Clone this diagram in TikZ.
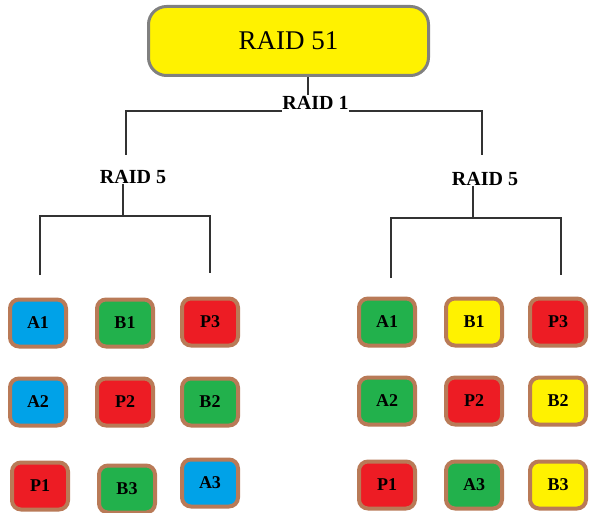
\documentclass[tikz,border=0pt]{standalone}
\usepackage{fontspec}
\setmainfont{Liberation Serif}
\definecolor{raidyellow}{RGB}{255,242,0}
\definecolor{raidblue}{RGB}{0,162,232}
\definecolor{raidgreen}{RGB}{34,177,76}
\definecolor{raidred}{RGB}{237,28,36}
\definecolor{diskrim}{RGB}{185,122,87}
\definecolor{wire}{RGB}{50,50,50}

\begin{document}
\begin{tikzpicture}[x=1pt, y=-1pt,
    wireline/.style={draw=wire, line width=1.5pt},
    level/.style={inner sep=0pt, font=\fontsize{20}{20}\selectfont\bfseries},
    disk/.style={draw=diskrim, line width=4pt, rounded corners=9pt, minimum width=56pt, minimum height=47pt, inner sep=0pt, font=\fontsize{18}{18}\selectfont\bfseries}]
			\useasboundingbox (0,0) rectangle (589,513);
			\node [draw=gray, line width=3pt, fill=raidyellow, rounded corners=18pt, minimum width=280pt, minimum height=69pt, font=\fontsize{27}{27}\selectfont] (raid51) at (288.5,41) {RAID 51};
			\node [level] (raid1) at (315.5,103) {RAID 1};
			\node [level] (left5) at (133,177) {RAID 5};
			\node [level] (right5) at (485,179) {RAID 5};
			\coordinate (top) at (308,95);
			\coordinate (l1) at (126,111);
			\coordinate (l1e) at (126,155);
			\coordinate (r1) at (482,111);
			\coordinate (r1e) at (482,155);
			\coordinate (lbar) at (123,216);
			\coordinate (rbar) at (473,218);
			\draw [wireline] (raid51.south -| top) -- (top);
			\draw [wireline] (raid1.west |- l1) -- (l1) -- (l1e);
			\draw [wireline] (raid1.east |- r1) -- (r1) -- (r1e);
			\draw [wireline] (left5.south -| lbar) -- (lbar);
			\draw [wireline] (40,275) -- (40,216) -- (210,216) -- (210,273);
			\draw [wireline] (right5.south -| rbar) -- (rbar);
			\draw [wireline] (391,278) -- (391,218) -- (561,218) -- (561,275);
			\node [disk, fill=raidblue] (la1) at (38,323) {A1};
			\node [disk, fill=raidgreen] (lb1) at (125,323) {B1};
			\node [disk, fill=raidred] (lp3) at (210,322) {P3};
			\node [disk, fill=raidblue] (la2) at (38,402) {A2};
			\node [disk, fill=raidred] (lp2) at (125,402) {P2};
			\node [disk, fill=raidgreen] (lb2) at (210,402) {B2};
			\node [disk, fill=raidred] (lp1) at (40,486) {P1};
			\node [disk, fill=raidgreen] (lb3) at (127,489) {B3};
			\node [disk, fill=raidblue] (la3) at (210,483) {A3};
			\node [disk, fill=raidgreen] (ra1) at (387,322) {A1};
			\node [disk, fill=raidyellow] (rb1) at (474,322) {B1};
			\node [disk, fill=raidred] (rp3) at (558,322) {P3};
			\node [disk, fill=raidgreen] (ra2) at (387,401) {A2};
			\node [disk, fill=raidred] (rp2) at (474,401) {P2};
			\node [disk, fill=raidyellow] (rb2) at (558,401) {B2};
			\node [disk, fill=raidred] (rp1) at (387,485) {P1};
			\node [disk, fill=raidgreen] (ra3) at (474,485) {A3};
			\node [disk, fill=raidyellow] (rb3) at (558,485) {B3};
\end{tikzpicture}
\end{document}
